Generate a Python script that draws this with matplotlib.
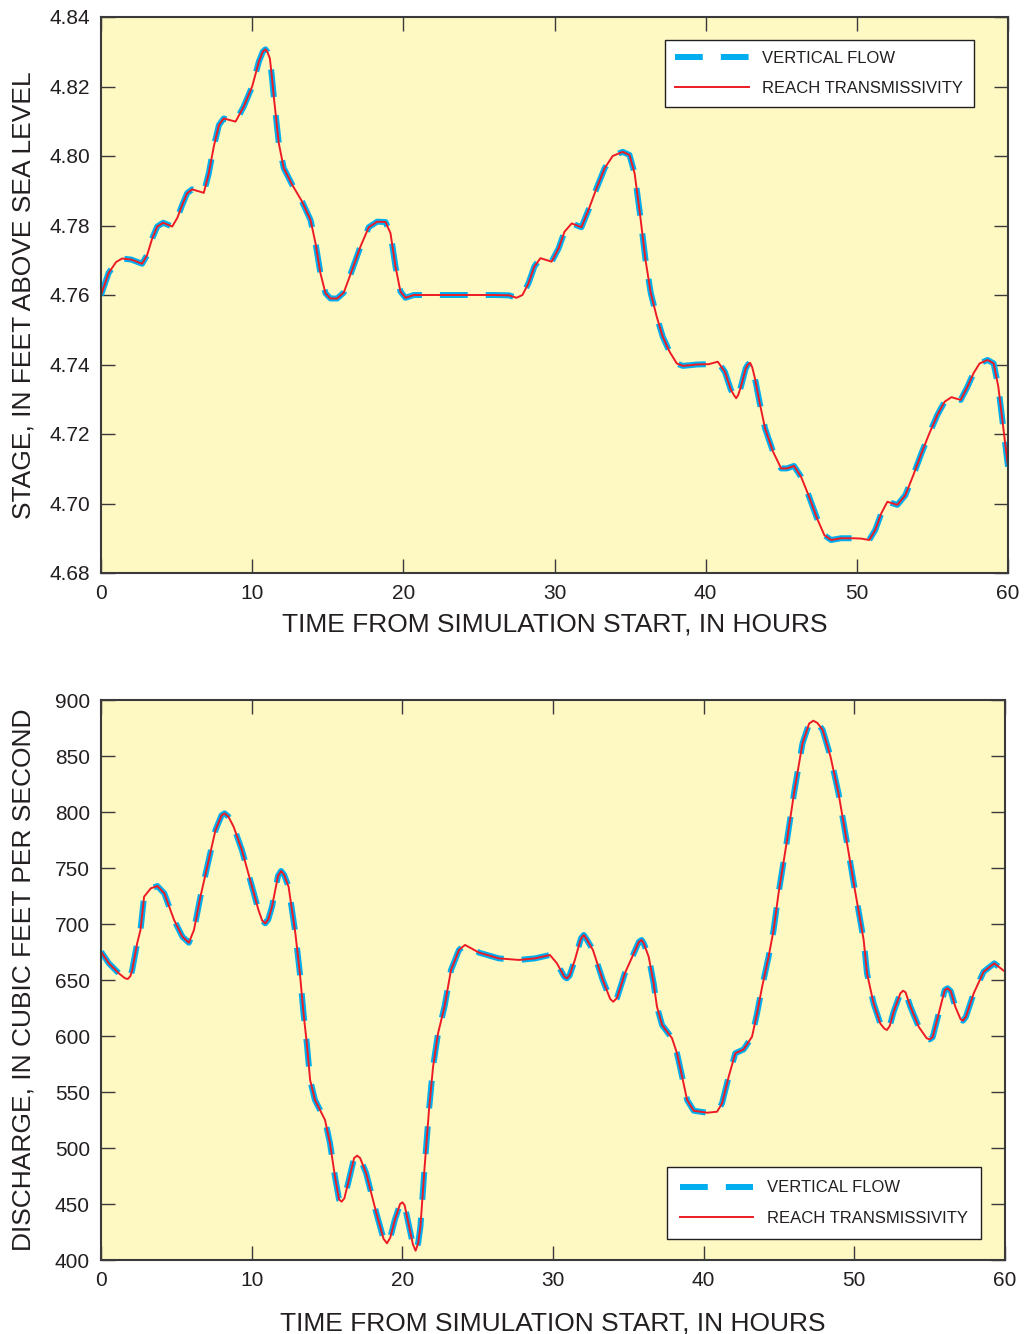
import matplotlib
matplotlib.use("Agg")
import matplotlib.pyplot as plt

# Stage at the downstream reach, hours since start vs feet above sea level
stage_hours = [
    0.0, 0.5, 1.0, 1.4, 2.0, 2.72, 3.05, 3.39, 3.72, 4.11, 4.71, 5.05, 5.37, 5.7,
    6.03, 6.8, 7.13, 7.46, 7.8, 8.12, 8.9, 9.44, 10.0, 10.44, 10.7, 10.88, 11.0,
    11.17, 11.3, 11.43, 11.76, 12.09, 12.65, 13.3, 13.86, 14.19, 14.52, 14.85,
    15.18, 15.62, 16.06, 16.61, 17.16, 17.71, 18.27, 18.82, 19.15, 19.48, 19.81,
    20.14, 20.69, 22.0, 24.0, 26.0, 27.0, 27.48, 27.88, 28.28, 28.67, 29.07,
    29.81, 30.27, 30.66, 31.14, 31.78, 32.25, 32.78, 33.32, 33.85, 34.51, 34.96,
    35.3, 35.65, 36.02, 36.37, 36.76, 37.16, 37.61, 38.09, 38.49, 39.42, 40.21,
    40.8, 41.27, 41.67, 41.9, 42.02, 42.15, 42.33, 42.65, 42.8, 42.94, 43.08,
    43.26, 43.58, 43.93, 44.46, 44.99, 45.38, 45.84, 46.31, 46.84, 47.37, 47.85,
    48.3, 48.96, 49.76, 50.29, 50.82, 51.22, 51.62, 52.02, 52.68, 53.21, 53.74,
    54.27, 54.8, 55.33, 55.81, 56.26, 56.87, 57.32, 57.72, 58.12, 58.65, 59.05,
    59.36, 59.65, 60.0,
]
stage_vertical_flow = [
    4.760, 4.7663, 4.7695, 4.7705, 4.7702, 4.7690, 4.7715, 4.7763, 4.7797,
    4.7808, 4.7797, 4.7822, 4.7859, 4.7893, 4.7904, 4.7894, 4.7950, 4.8027,
    4.8089, 4.8108, 4.8099, 4.8142, 4.8200, 4.8271, 4.8300, 4.8307, 4.8300,
    4.8281, 4.8230, 4.8171, 4.8037, 4.7965, 4.7917, 4.7869, 4.7816, 4.7749,
    4.7662, 4.7605, 4.7590, 4.7590, 4.7607, 4.7672, 4.7739, 4.7795, 4.7811,
    4.7810, 4.7778, 4.7682, 4.7610, 4.7592, 4.7600, 4.7600, 4.7600, 4.7600,
    4.7599, 4.7592, 4.7600, 4.7634, 4.7682, 4.7706, 4.7696, 4.7734, 4.7782,
    4.7806, 4.7795, 4.7845, 4.7907, 4.7965, 4.8000, 4.8012, 4.8003, 4.7950,
    4.7835, 4.7701, 4.7605, 4.7538, 4.7480, 4.7437, 4.7403, 4.7396, 4.7400,
    4.7401, 4.7408, 4.7379, 4.7327, 4.7310, 4.7303, 4.7312, 4.7336, 4.7389,
    4.7400, 4.7405, 4.7392, 4.7360, 4.7288, 4.7216, 4.7149, 4.7101, 4.7101,
    4.7108, 4.7077, 4.7020, 4.6957, 4.6909, 4.6895, 4.6900, 4.6900, 4.6899,
    4.6895, 4.6924, 4.6972, 4.7005, 4.6996, 4.7024, 4.7082, 4.7144, 4.7202,
    4.7255, 4.7293, 4.7306, 4.7298, 4.7336, 4.7375, 4.7403, 4.7413, 4.7403,
    4.7336, 4.7231, 4.7106,
]
# both formulations give the same stage at the plotted scale
stage_reach_transmissivity = list(stage_vertical_flow)

# Discharge, hours since start vs cubic feet per second
discharge_hours = [
    0.0, 0.52, 1.18, 1.6, 1.78, 1.95, 2.07, 2.4, 2.62, 2.86, 3.3, 3.74, 4.2,
    4.85, 5.4, 5.83, 6.17, 6.6, 7.05, 7.6, 8.0, 8.2, 8.45, 8.8, 9.35, 9.9,
    10.45, 10.7, 10.9, 11.1, 11.35, 11.75, 11.95, 12.15, 12.45, 12.9, 13.2,
    13.44, 13.66, 13.88, 14.2, 14.87, 15.2, 15.53, 15.8, 15.97, 16.15, 16.4,
    16.8, 17.0, 17.2, 17.6, 18.28, 18.75, 18.98, 19.2, 19.5, 19.85, 20.0, 20.15,
    20.45, 20.7, 20.88, 21.05, 21.2, 21.48, 21.77, 22.04, 22.37, 22.8, 23.23,
    23.76, 24.16, 25.1, 26.4, 27.74, 28.8, 29.8, 30.26, 30.75, 30.92, 31.1,
    31.45, 31.85, 32.04, 32.25, 32.65, 33.3, 33.8, 34.0, 34.25, 34.77, 35.7,
    35.88, 36.02, 36.35, 36.68, 36.9, 37.24, 37.9, 38.23, 38.57, 38.9, 39.34,
    40.22, 40.89, 41.22, 41.66, 42.1, 42.65, 43.21, 43.54, 43.88, 44.31, 44.64,
    44.97, 45.5, 46.03, 46.56, 47.0, 47.28, 47.55, 47.9, 48.42, 48.95, 49.48,
    50.0, 50.62, 50.84, 51.28, 51.73, 52.0, 52.17, 52.35, 52.61, 53.05, 53.23,
    53.4, 53.72, 54.27, 54.8, 55.0, 55.2, 55.6, 56.0, 56.19, 56.4, 56.7, 57.05,
    57.21, 57.4, 57.92, 58.58, 59.29, 60.0,
]
discharge_vertical_flow = [
    675.3, 664.9, 656.0, 651.5, 650.9, 653.5, 658.9, 682.8, 694.6, 724.4,
    731.8, 733.9, 727.4, 703.6, 688.7, 683.3, 694.6, 724.4, 751.2, 783.9,
    797.0, 798.8, 796.0, 786.9, 766.1, 739.3, 712.5, 703.0, 700.6, 704.0,
    715.5, 743.0, 747.3, 744.0, 733.3, 691.7, 656.0, 620.3, 593.5, 560.7,
    542.9, 525.0, 504.2, 474.4, 454.0, 452.1, 455.0, 468.5, 491.0, 493.2,
    491.0, 477.4, 441.7, 419.0, 414.9, 420.0, 435.7, 450.0, 451.5, 449.0,
    429.8, 414.0, 408.3, 415.0, 429.8, 483.3, 533.9, 572.6, 602.4, 626.2,
    658.9, 676.8, 681.3, 674.4, 669.3, 667.9, 669.3, 672.3, 664.9, 653.0,
    651.5, 654.0, 667.9, 687.0, 690.2, 686.0, 676.8, 650.0, 633.0, 630.6,
    634.0, 656.0, 684.0, 685.7, 682.8, 670.8, 647.0, 626.2, 609.8, 598.0,
    584.6, 563.7, 542.9, 533.3, 531.5, 532.4, 539.9, 563.7, 584.6, 588.0,
    599.4, 620.0, 644.0, 670.8, 694.6, 727.4, 772.0, 819.6, 861.3, 879.0,
    881.5, 879.5, 873.2, 849.4, 816.7, 775.0, 733.3, 685.7, 656.0, 629.0,
    611.0, 606.5, 605.4, 609.0, 621.7, 638.0, 640.4, 639.0, 626.2, 608.3,
    598.0, 597.0, 599.0, 620.2, 641.0, 642.6, 640.0, 626.2, 615.0, 613.7,
    617.0, 638.0, 657.4, 664.9, 657.4,
]
discharge_reach_transmissivity = list(discharge_vertical_flow)

series_labels = ["VERTICAL FLOW", "REACH TRANSMISSIVITY"]
hour_ticks = [0, 10, 20, 30, 40, 50, 60]
stage_ticks = [4.68, 4.70, 4.72, 4.74, 4.76, 4.78, 4.80, 4.82, 4.84]
discharge_ticks = [400, 450, 500, 550, 600, 650, 700, 750, 800, 850, 900]

PANEL_BG = "#FEF8C3"
BLUE = "#00AEEF"
RED = "#ED1C24"
INK = "#231F20"
EDGE = "#3A3A3A"

plt.rcParams["font.family"] = ["Liberation Sans", "DejaVu Sans"]
plt.rcParams["text.color"] = INK
plt.rcParams["lines.scale_dashes"] = False

W, H = 1027, 1334
fig = plt.figure(figsize=(W / 100, H / 100), dpi=100)


def fig_box(left, top, right, bottom):
    return [left / W, 1 - bottom / H, (right - left) / W, (bottom - top) / H]


def style_axes(ax, yticks, yfmt):
    ax.set_facecolor(PANEL_BG)
    ax.set_xlim(0, 60)
    ax.set_xticks(hour_ticks)
    ax.set_yticks(yticks)
    ax.set_yticklabels([yfmt.format(v) for v in yticks])
    ax.set_ylim(yticks[0], yticks[-1])
    ax.tick_params(direction="in", length=10, width=1.0, color=EDGE,
                   top=True, right=True, labelsize=15, labelcolor=INK, pad=8)
    for spine in ax.spines.values():
        spine.set_linewidth(1.5)
        spine.set_color(EDGE)


def draw_series(ax, hours, vertical, reach):
    ax.plot(hours, vertical, color=BLUE, lw=4.3, dashes=(20, 13),
            dash_capstyle="butt", solid_joinstyle="round", label=series_labels[0])
    ax.plot(hours, reach, color=RED, lw=1.4, solid_joinstyle="round",
            label=series_labels[1])


def add_legend(ax, loc, anchor, pad):
    leg = ax.legend(loc=loc, bbox_to_anchor=anchor, fontsize=12,
                    handlelength=4.4, handletextpad=0.8, borderpad=pad,
                    labelspacing=0.92, borderaxespad=0, fancybox=False,
                    framealpha=1, edgecolor=INK, facecolor="white")
    leg.get_frame().set_linewidth(1.0)


ax_stage = fig.add_axes(fig_box(101, 17, 1008, 573))
draw_series(ax_stage, stage_hours, stage_vertical_flow, stage_reach_transmissivity)
style_axes(ax_stage, stage_ticks, "{:.2f}")
add_legend(ax_stage, "upper right", (0.9625, 0.9586), 0.65)

ax_flow = fig.add_axes(fig_box(101, 700, 1005, 1260))
draw_series(ax_flow, discharge_hours, discharge_vertical_flow, discharge_reach_transmissivity)
style_axes(ax_flow, discharge_ticks, "{:.0f}")
add_legend(ax_flow, "lower right", (0.9735, 0.0375), 0.8)

xlabel = "TIME FROM SIMULATION START, IN HOURS"
fig.text(554.5 / W, 1 - 631 / H, xlabel, ha="center", va="baseline", fontsize=19)
fig.text(553 / W, 1 - 1331 / H, xlabel, ha="center", va="baseline", fontsize=19)
fig.text(24 / W, 1 - 295 / H, "STAGE, IN FEET ABOVE SEA LEVEL",
         rotation=90, ha="center", va="center", fontsize=19)
fig.text(24 / W, 1 - 980 / H, "DISCHARGE, IN CUBIC FEET PER SECOND",
         rotation=90, ha="center", va="center", fontsize=19)

fig.savefig("out.png", dpi=100, facecolor="white")
